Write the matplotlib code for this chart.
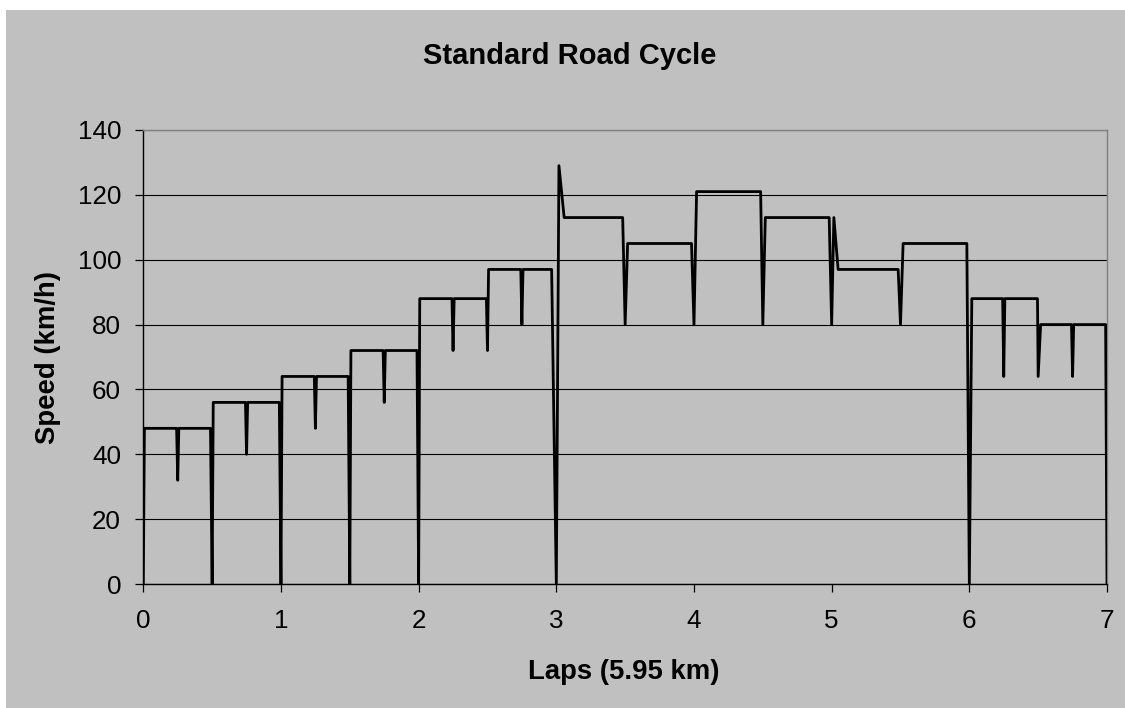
import matplotlib
matplotlib.use("Agg")
import matplotlib.pyplot as plt
from matplotlib.patches import Rectangle

# speed trace of the road cycle (laps, km/h)
LAPS = [
    0.0, 0.008, 0.242, 0.25, 0.258, 0.488, 0.5, 0.508,
    0.742, 0.75, 0.758, 0.988, 1.0, 1.008,
    1.242, 1.25, 1.258, 1.488, 1.5, 1.508,
    1.742, 1.75, 1.758, 1.988, 2.0, 2.008,
    2.242, 2.25, 2.258, 2.492, 2.5, 2.508,
    2.742, 2.75, 2.758, 2.966, 3.0, 3.019, 3.057,
    3.482, 3.5, 3.518, 3.982, 4.0, 4.019,
    4.484, 4.5, 4.518, 4.982, 5.0, 5.016, 5.047,
    5.483, 5.5, 5.519, 5.75, 5.982, 6.0, 6.018,
    6.242, 6.25, 6.258, 6.495, 6.5, 6.518,
    6.742, 6.75, 6.758, 6.99, 7.0,
]
SPEED = [
    0, 48, 48, 32, 48, 48, 0, 56,
    56, 40, 56, 56, 0, 64,
    64, 48, 64, 64, 0, 72,
    72, 56, 72, 72, 0, 88,
    88, 72, 88, 88, 72, 97,
    97, 80, 97, 97, 0, 129, 113,
    113, 80, 105, 105, 80, 121,
    121, 80, 113, 113, 80, 113, 97,
    97, 80, 105, 105, 105, 0, 88,
    88, 64, 88, 88, 64, 80,
    80, 64, 80, 80, 0,
]
X_TICKS = [0, 1, 2, 3, 4, 5, 6, 7]
Y_TICKS = [0, 20, 40, 60, 80, 100, 120, 140]

BG = "#c0c0c0"
W, H = 1125, 708

plt.rcParams["font.family"] = ["Liberation Sans", "DejaVu Sans"]

fig = plt.figure(figsize=(W / 100, H / 100), dpi=100, facecolor="white")
# grey chart area, leaving the thin white strip on the top and left
fig.patches.append(Rectangle((6 / W, 0), 1 - 6 / W, 1 - 10 / H, transform=fig.transFigure,
                             facecolor=BG, edgecolor="none", zorder=-10))

left, right, top, bottom = 143.3, 1107, 130, 584
ax = fig.add_axes([left / W, 1 - bottom / H, (right - left) / W, (bottom - top) / H])
ax.set_facecolor(BG)

ax.plot(LAPS, SPEED, color="black", linewidth=2.0, solid_joinstyle="round", zorder=3)

ax.set_xlim(0, 7)
ax.set_ylim(0, 140)
ax.set_xticks(X_TICKS)
ax.set_yticks(Y_TICKS)
ax.tick_params(axis="both", direction="out", length=6, width=0.9, color="black",
               labelsize=18.7, labelcolor="black")
ax.tick_params(axis="y", pad=10)
ax.tick_params(axis="x", pad=12)

ax.yaxis.grid(True, color="black", linewidth=0.8)
ax.set_axisbelow(True)

for side in ("left", "bottom"):
    ax.spines[side].set_color("black")
    ax.spines[side].set_linewidth(1.0)
for side in ("top", "right"):
    ax.spines[side].set_color("#808080")
    ax.spines[side].set_linewidth(1.0)

fig.text(570 / W, 1 - 56 / H, "Standard Road Cycle", ha="center", va="center",
         fontsize=21, fontweight="bold", color="black")
fig.text(624 / W, 1 - 672 / H, "Laps (5.95 km)", ha="center", va="center",
         fontsize=19.8, fontweight="bold", color="black")
fig.text(48 / W, 1 - 357 / H, "Speed (km/h)", ha="center", va="center", rotation=90,
         fontsize=19.8, fontweight="bold", color="black")

fig.savefig("out.png", dpi=100, facecolor="white")
